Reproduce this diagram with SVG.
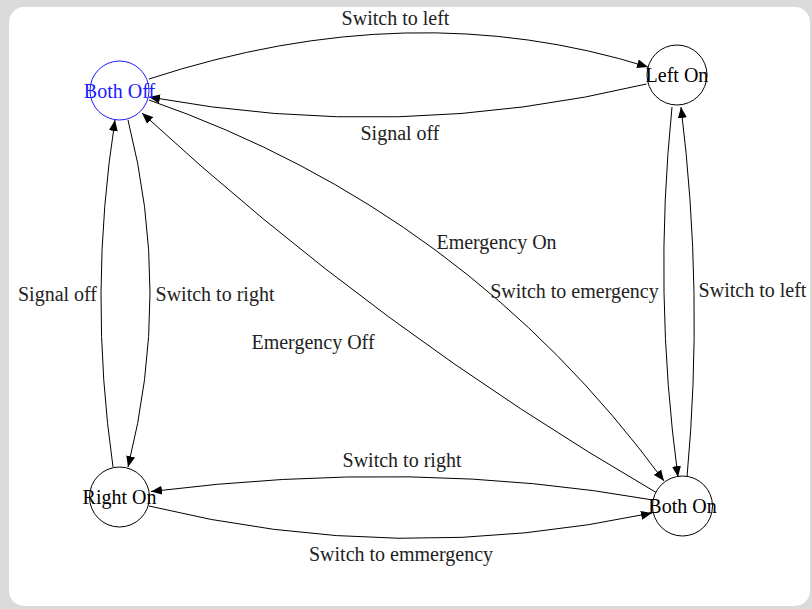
<svg xmlns="http://www.w3.org/2000/svg" width="812" height="609" viewBox="0 0 812 609">
<style>
.node circle{fill:#fff;stroke:#000;stroke-width:1}
.node text{font-family:"Liberation Serif","Times New Roman",serif;font-size:20px;text-anchor:middle;fill:#000}
#both-off circle{stroke:#1a1aff}
#both-off text{fill:#1a1aff}
.edge{fill:none;stroke:#000;stroke-width:1;marker-end:url(#arrow)}
.label{font-family:"Liberation Serif","Times New Roman",serif;font-size:20px;text-anchor:middle;fill:#222}
</style>
<defs>
<marker id="arrow" markerUnits="userSpaceOnUse" viewBox="0 -5 11 10" refX="11" refY="0" markerWidth="11" markerHeight="10" orient="auto">
<path d="M0,-4.5L11,0L0,4.5Z" fill="#000"/>
</marker>
</defs>
<rect x="0" y="0" width="812" height="609" fill="#dadada"/>
<rect x="9" y="7" width="801" height="599" rx="15" ry="15" fill="#fff"/>
<g id="connectors">
<path class="edge" d="M149,79 Q411.5,-7 648,67"/>
<path class="edge" d="M646.5,84 Q400,143 149,97"/>
<path class="edge" d="M149,100 Q465.6,210.6 664,481"/>
<path class="edge" d="M657,493 Q378.6,331.3 142,113"/>
<path class="edge" d="M128,120 Q172,292.5 128,467"/>
<path class="edge" d="M113,467 Q88,292.5 115,120"/>
<path class="edge" d="M672,107 Q653,293 678,477"/>
<path class="edge" d="M687,477 Q704,293 681,107"/>
<path class="edge" d="M653,500 Q418,458 151,491.5"/>
<path class="edge" d="M149,506 Q397.5,567 652,513"/>
</g>
<g id="labels">
<text class="label" x="395.5" y="24.5">Switch to left</text>
<text class="label" x="400" y="139.5">Signal off</text>
<text class="label" x="496.5" y="249">Emergency On</text>
<text class="label" x="574.5" y="298">Switch to emergency</text>
<text class="label" x="313" y="349">Emergency Off</text>
<text class="label" x="57.5" y="300.5">Signal off</text>
<text class="label" x="215" y="300.5">Switch to right</text>
<text class="label" x="752.5" y="297">Switch to left</text>
<text class="label" x="402" y="467">Switch to right</text>
<text class="label" x="401" y="561">Switch to emmergency</text>
</g>
<g id="both-off" class="node"><circle cx="119.5" cy="90.5" r="29.5"/><text x="119.5" y="97.5">Both Off</text></g>
<g id="left-on" class="node"><circle cx="677" cy="75" r="30"/><text x="677" y="82">Left On</text></g>
<g id="right-on" class="node"><circle cx="119.5" cy="497" r="30"/><text x="119.5" y="503.5">Right On</text></g>
<g id="both-on" class="node"><circle cx="682.5" cy="506" r="30"/><text x="682.5" y="512.5">Both On</text></g>
</svg>
